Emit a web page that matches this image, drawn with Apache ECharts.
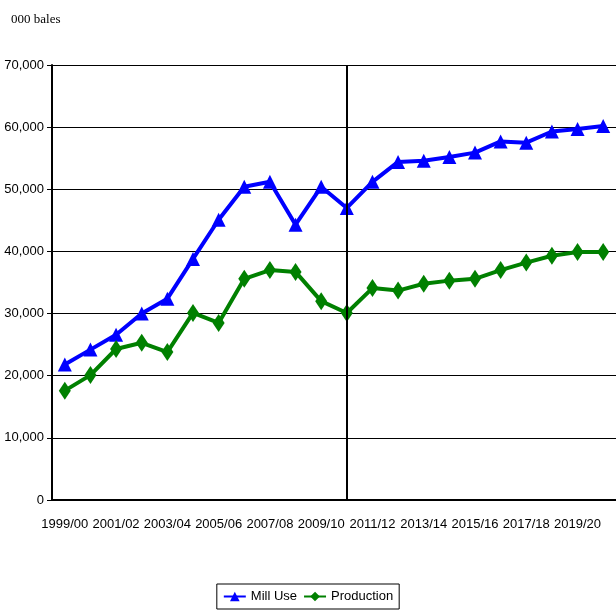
<!DOCTYPE html><html><head><meta charset="utf-8"><script src="https://cdn.jsdelivr.net/npm/echarts@6/dist/echarts.min.js"></script>
<style>body{margin:0;background:#fff}#c{width:616px;height:611px}</style></head><body><div id="c"></div><script>
const categories=['1999/00','2000/01','2001/02','2002/03','2003/04','2004/05','2005/06','2006/07','2007/08','2008/09','2009/10','2010/11','2011/12','2012/13','2013/14','2014/15','2015/16','2016/17','2017/18','2018/19','2019/20','2020/21'];
const millUse=[21800,24200,26600,30000,32400,38800,45100,50400,51200,44300,50400,47000,51200,54400,54600,55200,55900,57700,57500,59300,59700,60200];
const production=[17600,20100,24300,25300,23800,30100,28500,35600,37000,36700,32000,30100,34100,33700,34800,35300,35600,37000,38200,39300,39900,39900];
const F='"Liberation Sans Narrow","Liberation Sans",Arial';
const ch=echarts.init(document.getElementById('c'));
ch.setOption({animation:false,
title:{text:'000 bales',left:6,top:8,textStyle:{fontFamily:'"Liberation Serif",serif',fontWeight:'normal',fontSize:13,color:'#000'}},
legend:{bottom:2,left:'center',itemWidth:22,itemHeight:12,borderColor:'#000',borderWidth:1,borderRadius:0,padding:[6,6],itemGap:6,textStyle:{fontFamily:F,fontSize:13,color:'#000'}},
grid:{left:52,right:-6,top:65,bottom:111},
xAxis:{type:'category',data:categories,boundaryGap:true,axisLine:{lineStyle:{color:'#000',width:2}},axisTick:{lineStyle:{color:'#000'},length:5,interval:0},
axisLabel:{interval:1,color:'#000',fontFamily:F,fontSize:13,margin:18}},
yAxis:{type:'value',min:0,max:70000,interval:10000,axisLine:{show:true,lineStyle:{color:'#000',width:2}},axisTick:{show:true,lineStyle:{color:'#000'},length:5},
splitLine:{lineStyle:{color:'#000',width:1}},axisLabel:{color:'#000',fontFamily:F,fontSize:13,formatter:v=>v.toLocaleString('en-US')}},
series:[{name:'Mill Use',type:'line',data:millUse,color:'#0000ff',lineStyle:{width:4},symbol:'triangle',symbolSize:14,showAllSymbol:true,
markLine:{silent:true,symbol:'none',label:{show:false},lineStyle:{color:'#000',width:2,type:'solid'},data:[{xAxis:'2010/11'}]}},
{name:'Production',type:'line',data:production,color:'#008000',lineStyle:{width:4},symbol:'diamond',symbolSize:[12,18],showAllSymbol:true}]});
</script></body></html>
